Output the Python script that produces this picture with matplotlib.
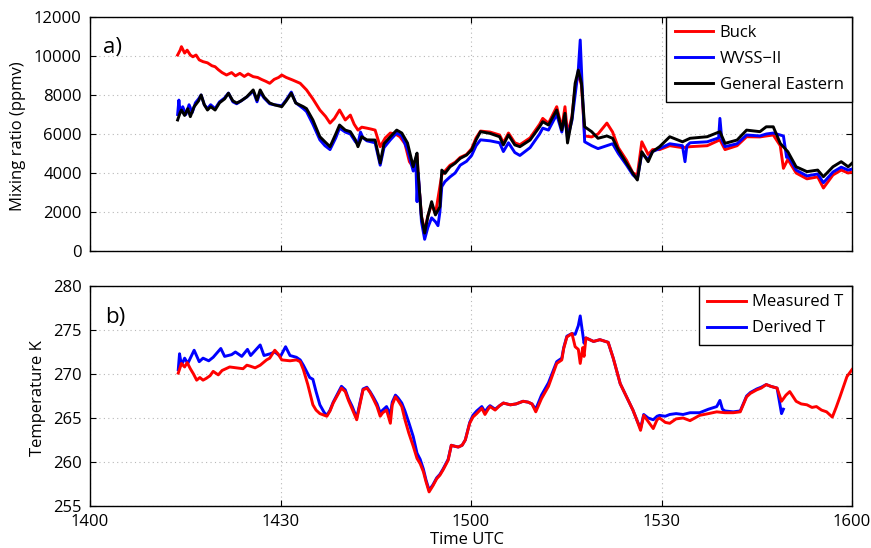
import matplotlib
matplotlib.use("Agg")
import matplotlib.pyplot as plt
from matplotlib.lines import Line2D

plt.rcParams['font.family'] = ['Open Sans', 'DejaVu Sans']

# ---------------- data (time in minutes after 14:00 UTC) ----------------
xtick_pos = [0, 30, 60, 90, 120]
xtick_labels = ['1400', '1430', '1500', '1530', '1600']
ytick_top = [0, 2000, 4000, 6000, 8000, 10000, 12000]
ytick_bot = [255, 260, 265, 270, 275, 280]

buck_t = [13.8, 14.2, 14.4, 14.9, 15.3, 15.8, 16.2, 16.7, 17.2, 17.8, 18.5, 19.2, 19.7, 20.2, 20.8,
          21.5, 22.3, 22.9, 23.6, 24.3, 24.9, 25.7, 26.4, 27.0, 27.7, 28.3, 29.0, 29.7, 30.2, 30.9,
          31.9, 33.1, 34.1, 35.1, 36.2, 37.1, 37.8, 38.5, 39.3, 40.2, 41.0, 41.6, 42.2, 42.8, 43.6,
          44.3, 44.9, 45.7, 46.5, 47.3, 48.1, 48.8, 49.6, 50.3, 50.9, 51.5, 51.7, 52.2, 52.7, 53.2,
          53.8, 54.4, 55.1, 55.4, 55.9, 56.7, 57.5, 58.3, 59.3, 60.1, 60.8, 61.5, 63.0, 64.5, 65.1,
          65.9, 66.9, 67.7, 69.3, 70.8, 71.3, 72.2, 73.5, 74.3, 74.8, 75.2, 75.9, 76.4, 76.9, 77.4,
          77.9, 79.0, 80.0, 81.4, 82.3, 83.2, 84.5, 85.5, 86.2, 86.9, 87.9, 88.6, 89.7, 91.3, 93.3,
          94.5, 97.2, 99.2, 100.0, 101.9, 103.4, 105.5, 106.5, 107.6, 108.7, 109.2, 109.9, 111.2,
          112.9, 114.6, 115.5, 117.0, 118.3, 119.4, 120.0]
buck_v = [10050, 10300, 10480, 10150, 10300, 10050, 9960, 10050, 9800, 9710, 9650, 9500, 9450, 9300, 9150,
          9025, 9150, 8980, 9110, 8950, 9080, 8940, 8900, 8800, 8700, 8600, 8800, 8900, 9025, 8900,
          8770, 8600, 8260, 7800, 7230, 6900, 6560, 6800, 7230, 6720, 6970, 6500, 6200, 6350, 6300,
          6250, 6200, 5350, 5800, 6050, 6000, 5860, 5500, 4580, 4300, 4900, 3800, 1800, 1000, 1800,
          2400, 1900, 3300, 3900, 4100, 4400, 4550, 4800, 4950, 5250, 5800, 6150, 6100, 5950, 5550,
          6050, 5550, 5450, 5800, 6500, 6800, 6550, 7400, 6300, 7400, 6000, 6900, 8400, 9100, 8500,
          5900, 5850, 6000, 6560, 6100, 5300, 4650, 4000, 3900, 5600, 4950, 5200, 5200, 5400, 5300,
          5350, 5400, 5700, 5200, 5400, 5860, 5850, 5900, 5950, 5400, 4240, 4700, 4000,
          3700, 3800, 3230, 3900, 4150, 4000, 4050]

ge_t = [13.8, 14.2, 14.4, 14.9, 15.4, 15.8, 16.4, 17.1, 17.5, 18.0, 18.5, 19.0, 19.7, 20.4, 21.2,
        21.8, 22.5, 23.1, 23.8, 24.7, 25.7, 26.3, 26.8, 27.4, 28.3, 29.0, 30.2, 30.9, 31.7, 32.4,
        33.6, 34.1, 35.1, 36.2, 37.0, 37.8, 38.7, 39.3, 40.2, 41.0, 41.8, 42.2, 42.8, 43.6, 44.9,
        45.7, 46.3, 47.3, 48.3, 49.1, 50.0, 50.9, 51.3, 51.5, 51.7, 52.2, 52.7, 53.2, 53.8, 54.4,
        55.1, 55.4, 55.9, 56.7, 57.5, 58.3, 59.3, 60.1, 60.8, 61.5, 63.0, 64.5, 65.1, 65.9, 66.9,
        67.7, 69.3, 70.8, 71.3, 72.2, 73.5, 74.3, 74.8, 75.2, 75.9, 76.4, 76.9, 77.4, 77.9, 79.0,
        80.0, 81.4, 82.3, 83.2, 84.5, 85.5, 86.2, 86.9, 87.9, 88.6, 89.7, 91.3, 93.3, 94.5, 97.2,
        99.2, 100.0, 101.9, 103.4, 105.5, 106.5, 107.6, 108.7, 109.9, 111.2, 112.9, 114.6, 115.5,
        117.0, 118.3, 119.4, 120.0]
ge_v = [6720, 7100, 7230, 6950, 7300, 6890, 7400, 7700, 8000, 7500, 7230, 7400, 7230, 7600, 7800,
        8090, 7700, 7590, 7700, 7910, 8260, 7740, 8260, 7900, 7590, 7500, 7400, 7700, 8090, 7590,
        7400, 7300, 6720, 5860, 5600, 5350, 6000, 6460, 6200, 6120, 5700, 5350, 5860, 5700, 5690,
        4510, 5500, 5860, 6200, 6050, 5540, 4320, 4800, 5020, 3810, 1760, 920, 1760, 2530, 1850,
        2270, 4150, 3980, 4320, 4500, 4750, 4920, 5180, 5700, 6120, 6030, 5860, 5440, 5950, 5440,
        5350, 5690, 6370, 6630, 6460, 7230, 6200, 7060, 5540, 6800, 8600, 9280, 8600, 6370, 6120,
        5780, 5900, 5780, 5180, 4500, 3980, 3640, 5090, 4580, 5100, 5350, 5860, 5600, 5780, 5860,
        6120, 5520, 5690, 6200, 6120, 6370, 6370, 5520, 5090, 4320, 4070, 4150, 3810,
        4320, 4580, 4320, 4500]

wvss_t = [13.8, 14.0, 14.2, 14.6, 15.1, 15.6, 16.1, 16.6, 17.1, 17.5, 18.0, 18.5, 19.0, 19.7, 20.4,
          21.2, 21.8, 22.5, 23.1, 23.8, 24.7, 25.7, 26.3, 26.8, 27.4, 28.3, 29.0, 30.2, 30.9, 31.7,
          32.4, 33.6, 34.1, 35.1, 36.2, 37.0, 37.8, 38.7, 39.3, 40.2, 41.0, 41.8, 42.2, 42.6, 43.0,
          43.6, 44.9, 45.7, 46.3, 47.3, 48.3, 49.1, 50.0, 50.9, 51.3, 51.5, 51.7, 52.2, 52.7, 53.2,
          53.8, 54.4, 54.8, 55.1, 55.4, 55.9, 56.7, 57.5, 58.3, 59.3, 60.1, 60.8, 61.5, 63.0, 64.5,
          65.1, 65.9, 66.9, 67.7, 69.3, 70.8, 71.3, 72.2, 73.5, 74.3, 74.8, 75.2, 75.9, 76.4, 76.9,
          77.2, 77.5, 77.9, 79.0, 80.0, 81.4, 82.3, 83.2, 84.5, 85.5, 86.2, 86.9, 87.9, 88.6, 89.7,
          91.3, 93.3, 93.7, 94.0, 94.5, 97.2, 99.0, 99.2, 99.5, 100.0, 101.9, 103.4, 105.5, 106.5,
          107.6, 108.7, 109.2, 109.7, 109.9, 111.2, 112.9, 114.6, 115.5, 117.0, 118.3, 119.4, 120.0]
wvss_v = [7000, 7740, 7100, 7400, 7000, 7500, 7100, 7600, 7800, 8000, 7500, 7300, 7500, 7300, 7650,
          7850, 8100, 7650, 7550, 7700, 7900, 8200, 7650, 8150, 7850, 7550, 7500, 7450, 7750, 8150,
          7600, 7300, 7150, 6500, 5700, 5400, 5200, 5800, 6300, 6100, 6000, 5600, 5500, 6100, 5800,
          5650, 5550, 4400, 5300, 5700, 6050, 5900, 5200, 4100, 4700, 2530, 4000, 1500, 600, 1200,
          1700, 1500, 1300, 2000, 3300, 3560, 3800, 4000, 4400, 4600, 4900, 5400, 5700, 5650, 5550,
          5100, 5550, 5050, 4900, 5300, 6000, 6300, 6200, 7000, 6100, 6900, 5800, 6700, 8000, 9300,
          10820, 8500, 5600, 5400, 5250, 5400, 5500, 5000, 4400, 3900, 3700, 5000, 4700, 5100, 5250,
          5500, 5400, 4580, 5400, 5550, 5600, 5800, 6800, 5700, 5350, 5500, 5950, 5900, 6000,
          6050, 5950, 5900, 4800, 4900, 4150, 3850, 3950, 3500, 4050, 4300, 4150, 4200]

meas_t = [13.9, 14.4, 14.9, 15.3, 15.8, 16.3, 16.8, 17.3, 17.8, 18.3, 18.9, 19.4, 20.2, 20.8, 21.4,
          22.0, 23.0, 24.1, 24.7, 25.2, 26.0, 26.8, 27.8, 28.3, 29.1, 29.6, 30.2, 31.5, 32.5, 33.1,
          33.6, 34.3, 35.1, 35.6, 36.2, 37.3, 37.8, 38.3, 39.6, 40.2, 40.7, 41.3, 42.0, 42.5, 43.0,
          43.6, 44.1, 44.6, 45.2, 45.7, 46.1, 46.7, 47.3, 47.6, 48.1, 48.5, 49.1, 49.6, 50.2, 50.9,
          51.5, 52.0, 52.5, 52.9, 53.4, 54.0, 54.6, 55.1, 55.6, 56.4, 56.9, 57.4, 58.0, 58.6, 59.1,
          59.8, 60.3, 60.9, 61.7, 62.2, 62.7, 63.0, 63.8, 64.5, 65.1, 66.2, 67.1, 68.2, 69.0, 69.6,
          70.2, 71.1, 72.2, 72.8, 73.5, 74.3, 74.6, 75.1, 75.9, 76.4, 76.9, 77.2, 77.6, 77.8, 78.1,
          79.3, 80.3, 81.6, 82.4, 83.5, 84.5, 85.5, 86.1, 86.7, 87.2, 87.9, 88.7, 89.3, 89.7, 90.6,
          91.3, 92.3, 93.4, 94.5, 96.0, 97.4, 98.7, 100.0, 101.3, 102.4, 103.4, 104.0, 105.0, 105.7,
          106.5, 107.2, 108.2, 108.9, 109.6, 110.2, 111.2, 112.0, 112.9, 113.7, 114.4, 115.2, 116.0,
          116.9, 117.5, 118.1, 119.2, 120.0]
meas_v = [270.1, 271.2, 270.8, 271.3, 270.6, 270.0, 269.3, 269.6, 269.3, 269.5, 269.8, 270.3, 269.9, 270.4, 270.6,
          270.8, 270.7, 270.6, 271.0, 270.9, 270.7, 271.0, 271.6, 271.8, 272.7, 272.3, 271.6, 271.5, 271.6, 271.4,
          270.5, 268.8, 266.5, 265.9, 265.5, 265.2, 265.8, 266.7, 268.4, 268.0, 267.0, 266.0, 264.8, 266.5, 268.2,
          268.4, 267.9, 267.2, 266.3, 265.2, 265.6, 265.9, 264.4, 266.5, 267.4, 267.0, 266.3, 264.8, 263.3, 261.8,
          260.4, 259.8, 258.9, 257.8, 256.6, 257.3, 258.1, 258.5, 259.1, 260.2, 261.9, 261.8, 261.7, 261.9, 262.5,
          264.4, 265.1, 265.5, 266.1, 265.4, 266.0, 266.3, 265.9, 266.4, 266.7, 266.5, 266.6, 266.9, 266.8, 266.6,
          265.7, 267.2, 268.6, 269.8, 271.2, 271.6, 272.9, 274.2, 274.6, 273.1, 272.8, 271.2, 273.0, 272.0, 274.1,
          273.7, 273.9, 273.6, 271.8, 268.9, 267.4, 265.9, 264.8, 263.6, 265.3, 264.6, 263.8, 264.8, 265.0, 264.5,
          264.4, 264.9, 265.0, 264.7, 265.3, 265.5, 265.7, 265.6, 265.6, 265.7, 267.4, 267.8, 268.2, 268.4,
          268.8, 268.6, 268.4, 266.9, 267.6, 268.0, 266.9, 266.6, 266.5, 266.2, 266.3, 265.9, 265.7,
          265.1, 266.2, 267.4, 269.7, 270.5]

deriv_t = [13.9, 14.1, 14.4, 14.9, 15.4, 16.4, 17.2, 17.8, 18.7, 19.4, 20.6, 21.2, 22.3, 22.9, 23.9,
           24.8, 25.3, 26.8, 27.4, 28.4, 29.1, 30.0, 30.8, 31.5, 32.5, 33.1, 33.6, 34.6, 35.1, 35.6,
           36.2, 36.9, 37.3, 37.8, 38.3, 39.6, 40.2, 40.7, 41.3, 42.0, 42.5, 43.0, 43.6, 44.1, 44.6,
           45.2, 45.7, 46.1, 46.7, 47.3, 47.6, 48.1, 48.5, 49.1, 49.6, 50.2, 50.9, 51.5, 52.0, 52.5,
           52.9, 53.4, 54.0, 54.6, 55.1, 55.6, 56.4, 56.9, 57.4, 58.0, 58.6, 59.1, 59.8, 60.3, 60.9,
           61.7, 62.2, 62.7, 63.0, 63.8, 64.5, 65.1, 66.2, 67.1, 68.2, 69.0, 69.6, 70.2, 71.1, 72.2,
           72.8, 73.5, 74.3, 74.6, 75.1, 75.9, 76.4, 76.9, 77.2, 77.6, 77.8, 78.1, 79.3, 80.3, 81.6,
           82.4, 83.5, 84.5, 85.5, 86.1, 86.7, 87.2, 87.9, 88.7, 89.3, 89.7, 90.6, 91.3, 92.3, 93.4,
           94.5, 96.0, 97.4, 98.7, 99.2, 99.6, 100.0, 101.3, 102.4, 103.4, 104.0, 105.0, 105.7, 106.5,
           107.2, 108.2, 108.9, 109.2]
deriv_v = [270.5, 272.3, 271.0, 271.8, 271.2, 272.7, 271.4, 271.8, 271.5, 271.9, 272.9, 272.0, 272.2, 272.5, 272.0,
           272.8, 272.1, 273.3, 272.1, 272.3, 272.5, 272.0, 273.1, 272.1, 271.9, 271.6, 271.0, 269.6, 269.4, 268.0,
           266.5, 265.6, 265.3, 265.9, 266.8, 268.6, 268.2, 267.2, 266.3, 265.0, 266.7, 268.3, 268.5, 268.0, 267.4,
           266.6, 265.6, 265.9, 266.3, 265.4, 266.8, 267.6, 267.3, 266.7, 265.8, 264.5, 262.9, 261.0, 260.3, 259.2,
           258.0, 256.8, 257.4, 258.2, 258.6, 259.2, 260.3, 261.9, 261.8, 261.7, 261.9, 262.5, 264.5, 265.3, 265.8,
           266.3, 265.7, 266.2, 266.4, 266.0, 266.4, 266.7, 266.5, 266.6, 266.9, 266.8, 266.6, 266.0, 267.6, 269.0,
           270.1, 271.4, 271.8, 273.0, 274.3, 274.6, 274.5, 275.5, 276.6, 274.5, 273.5, 274.1, 273.7, 273.9, 273.6,
           271.8, 268.9, 267.4, 265.9, 264.8, 263.8, 265.4, 265.0, 264.8, 265.2, 265.3, 265.2, 265.4, 265.5, 265.4,
           265.6, 265.6, 266.0, 266.3, 267.0, 266.0, 265.8, 265.7, 265.8, 267.5, 267.9, 268.3, 268.5, 268.8,
           268.6, 268.4, 265.5, 266.0]

# ---------------- figure ----------------
W, H = 871, 548
fig = plt.figure(figsize=(W / 100, H / 100), dpi=100)
ax1 = fig.add_axes([90 / W, 1 - 251 / H, 762 / W, 234 / H])
ax2 = fig.add_axes([90 / W, 1 - 506 / H, 762 / W, 220 / H])

LW = 2.1
FS = 12
red = (1, 0, 0)
blue = (0, 0, 1)

ax1.plot(buck_t, buck_v, color=red, lw=LW, label='Buck', zorder=3)
ax1.plot(wvss_t, wvss_v, color=blue, lw=LW, label='WVSS\u2212II', zorder=4)
ax1.plot(ge_t, ge_v, color='black', lw=LW, label='General Eastern', zorder=5)

ax2.plot(deriv_t, deriv_v, color=blue, lw=LW, zorder=3)
ax2.plot(meas_t, meas_v, color=red, lw=LW, zorder=4)

for ax in (ax1, ax2):
    ax.set_xlim(0, 120)
    ax.set_xticks(xtick_pos)
    ax.grid(True, linestyle=(0, (1, 3)), color='#b8b8b8', linewidth=0.8)
    ax.tick_params(direction='in', length=4, width=0.8, top=True, right=True,
                   labelsize=FS, colors='black', pad=6)
    for s in ax.spines.values():
        s.set_linewidth(1.0)
        s.set_color('black')

ax1.set_ylim(0, 12000)
ax1.set_yticks(ytick_top)
ax1.set_xticklabels([])
ax2.set_ylim(255, 280)
ax2.set_yticks(ytick_bot)
ax2.set_xticklabels(xtick_labels)

fig.text(18 / W, 1 - 136 / H, 'Mixing ratio (ppmv)', rotation=90, ha='center', va='center', fontsize=FS)
fig.text(38 / W, 1 - 398 / H, 'Temperature K', rotation=90, ha='center', va='center', fontsize=FS)
fig.text(467 / W, 1 - 540 / H, 'Time UTC', ha='center', va='center', fontsize=FS)

ax1.text(13 / 762, 1 - 30 / 234, 'a)', transform=ax1.transAxes, fontsize=16, ha='left', va='center')
ax2.text(15 / 762, 1 - 31 / 220, 'b)', transform=ax2.transAxes, fontsize=16, ha='left', va='center')

leg_kw = dict(loc='upper right', borderaxespad=0, fontsize=FS, frameon=True, fancybox=False,
              handlelength=2.3, handletextpad=0.4, labelspacing=0.6, borderpad=0.5)
leg1 = ax1.legend(**leg_kw)
leg1.get_frame().set_edgecolor('black')
leg1.get_frame().set_linewidth(1.0)
leg1.get_frame().set_alpha(1)

h_meas = Line2D([], [], color=red, lw=LW)
h_der = Line2D([], [], color=blue, lw=LW)
leg2 = ax2.legend([h_meas, h_der], ['Measured T', 'Derived T'], **leg_kw)
leg2.get_frame().set_edgecolor('black')
leg2.get_frame().set_linewidth(1.0)
leg2.get_frame().set_alpha(1)

fig.savefig('out.png', dpi=100)
